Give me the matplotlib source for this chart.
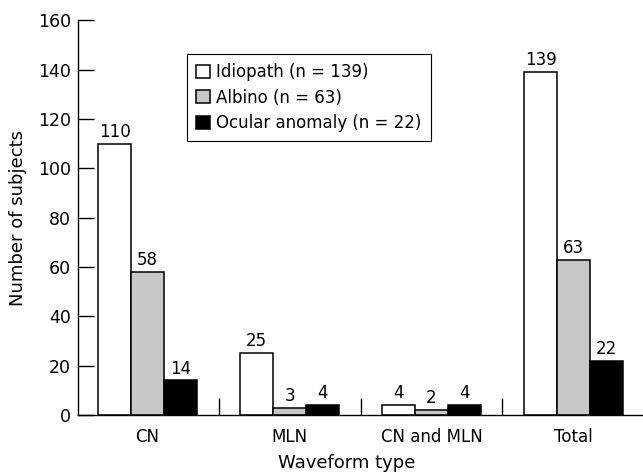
import numpy as np
import matplotlib.pyplot as plt

# Waveform type groups and counts per subject type
categories = ["CN", "MLN", "CN and MLN", "Total"]
idiopath = [110, 25, 4, 139]
albino = [58, 3, 2, 63]
ocular = [14, 4, 4, 22]
series_labels = ["Idiopath (n = 139)", "Albino (n = 63)", "Ocular anomaly (n = 22)"]

plt.rcParams["font.family"] = ["DejaVu Sans"]

fig = plt.figure(figsize=(6.43, 4.75), dpi=100)
ax = fig.add_axes([78 / 643, 1 - 415 / 475, 565 / 643, 394.7 / 475])

x = np.arange(len(categories))
w = 0.232
colors = ["white", "#c8c8c8", "black"]
for i, (vals, col, lab) in enumerate(zip([idiopath, albino, ocular], colors, series_labels)):
    pos = x + (i - 1) * w
    ax.bar(pos, vals, width=w, color=col, edgecolor="black", linewidth=1.1, label=lab)
    for p, v in zip(pos, vals):
        ax.text(p, v + 1.2, str(v), ha="center", va="bottom", fontsize=12)

ax.set_xlim(-0.49, 3.49)
ax.set_ylim(0, 160)
ax.set_yticks(range(0, 161, 20))
ax.set_xticks(x)
ax.set_xticklabels(categories)
ax.set_xticks([0.5, 1.5, 2.5], minor=True)
ax.tick_params(axis="x", which="major", length=0, labelsize=12, pad=9)
ax.tick_params(axis="x", which="minor", direction="in", length=12, width=1)
ax.tick_params(axis="y", direction="in", length=11.5, width=1, labelsize=12.5, pad=5)

for s in ["top", "right"]:
    ax.spines[s].set_visible(False)
ax.spines["left"].set_linewidth(1)
ax.spines["bottom"].set_linewidth(1)

ax.set_ylabel("Number of subjects", fontsize=13)
ax.yaxis.set_label_coords(-0.09, 0.5)
ax.set_xlabel("Waveform type", fontsize=13)
ax.xaxis.set_label_coords(0.475, -0.1)

leg = ax.legend(loc="upper left", bbox_to_anchor=(0.193, 0.915), fontsize=12,
                frameon=True, fancybox=False, edgecolor="black", framealpha=1,
                handlelength=0.8, handleheight=0.8, handletextpad=0.4,
                labelspacing=0.45, borderpad=0.55, borderaxespad=0)
leg.get_frame().set_linewidth(0.8)

fig.savefig("out.png", dpi=100)
